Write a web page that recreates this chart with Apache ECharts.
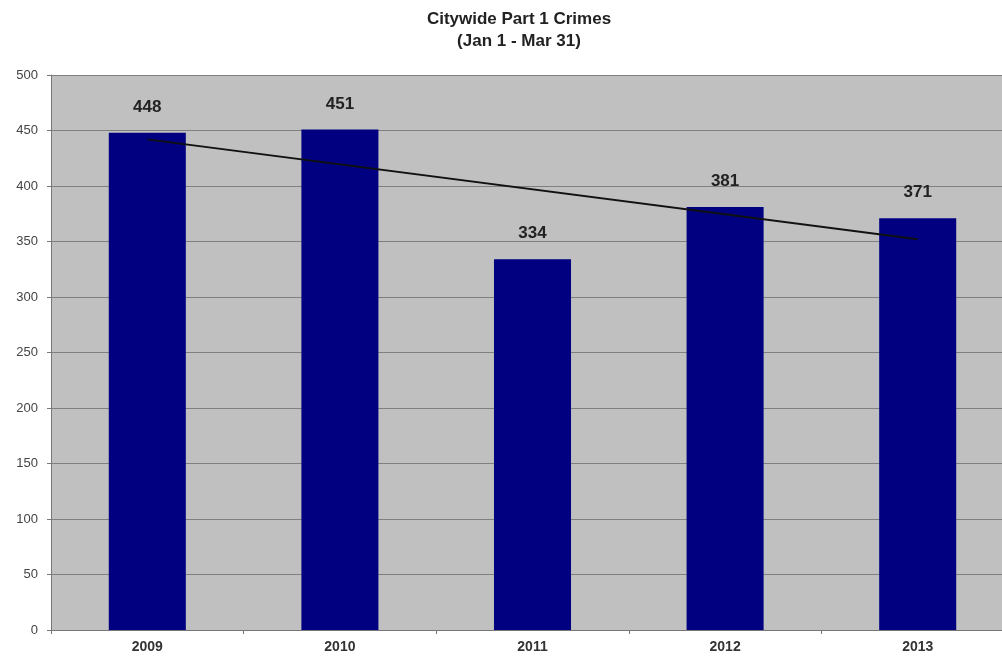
<!DOCTYPE html>
<html>
<head>
<meta charset="utf-8">
<script src="https://cdn.jsdelivr.net/npm/echarts@6/dist/echarts.min.js"></script>
<style>
  html, body { margin: 0; padding: 0; background: #fff; }
  #chart { width: 1002px; height: 656px; }
</style>
</head>
<body>
<div id="chart"></div>
<script>
var years = ['2009', '2010', '2011', '2012', '2013'];
var crimes = [448, 451, 334, 381, 371];
// trend line endpoints
var trend = [442, null, null, null, 352];
var yTicks = [0, 50, 100, 150, 200, 250, 300, 350, 400, 450, 500];

var myChart = echarts.init(document.getElementById('chart'));
myChart.setOption({
    animation: false,
    title: {
        text: 'Citywide Part 1 Crimes\n(Jan 1 - Mar 31)',
        left: 514,
        textAlign: 'center',
        top: 3,
        textStyle: {
            fontFamily: 'Liberation Sans, Arial, sans-serif',
            fontSize: 17,
            fontWeight: 'bold',
            color: '#222',
            lineHeight: 22
        }
    },
    grid: {
        left: 51,
        width: 963,
        top: 75,
        height: 555,
        outerBoundsMode: 'none',
        show: true,
        backgroundColor: '#c0c0c0',
        borderWidth: 0
    },
    xAxis: {
        type: 'category',
        data: years,
        axisLine: { lineStyle: { color: '#777', width: 1 } },
        axisTick: { show: true, length: 4, lineStyle: { color: '#777' } },
        axisLabel: {
            fontFamily: 'Liberation Sans, Arial, sans-serif',
            fontSize: 14,
            fontWeight: 'bold',
            color: '#333',
            margin: 10
        }
    },
    yAxis: {
        type: 'value',
        min: yTicks[0],
        max: yTicks[yTicks.length - 1],
        interval: 50,
        axisLine: { show: true, lineStyle: { color: '#777', width: 1 } },
        axisTick: { show: true, length: 4, lineStyle: { color: '#777' } },
        splitLine: { show: true, lineStyle: { color: '#808080', width: 1 } },
        axisLabel: {
            fontFamily: 'Liberation Sans, Arial, sans-serif',
            fontSize: 13,
            color: '#444',
            margin: 13
        }
    },
    series: [
        {
            type: 'bar',
            data: crimes,
            barWidth: '40%',
            itemStyle: { color: '#000080' },
            label: {
                show: true,
                position: 'top',
                distance: 17,
                fontFamily: 'Liberation Sans, Arial, sans-serif',
                fontSize: 17,
                fontWeight: 'bold',
                color: '#222'
            },
            z: 2
        },
        {
            type: 'line',
            data: trend,
            connectNulls: true,
            symbol: 'none',
            lineStyle: { color: '#111', width: 2 },
            z: 3
        }
    ]
});
</script>
</body>
</html>
